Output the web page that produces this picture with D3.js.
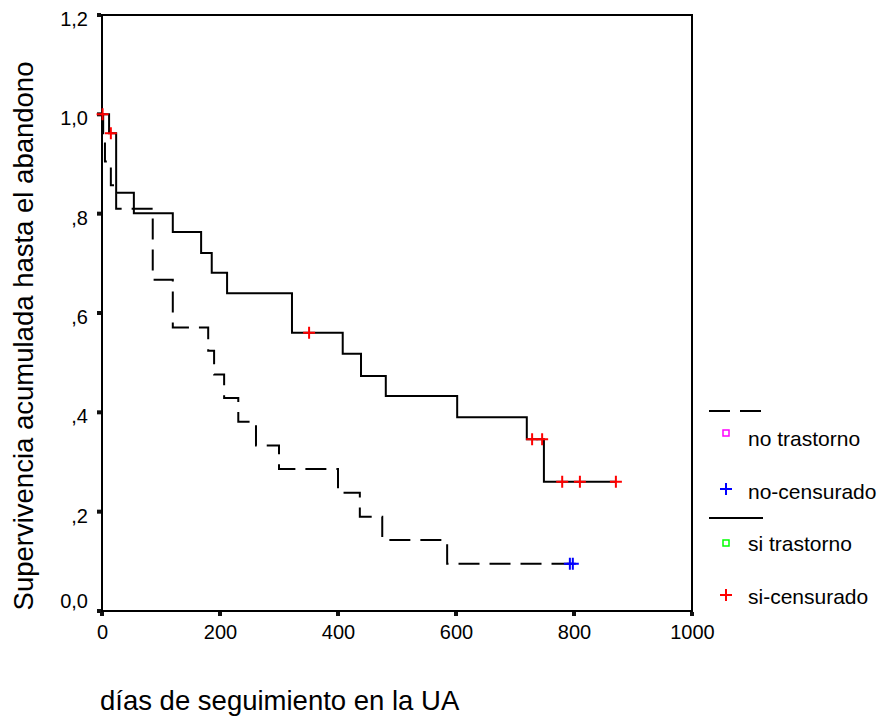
<!DOCTYPE html>
<html>
<head>
<meta charset="utf-8">
<script src="https://cdn.jsdelivr.net/npm/d3@7"></script>
<style>
  body { margin: 0; background: #fff; }
  svg { display: block; font-family: "Liberation Sans", Arial, sans-serif; }
</style>
</head>
<body>
<svg id="chart" width="882" height="717"></svg>
<script>
// axis ticks
const xTicks = [0, 200, 400, 600, 800, 1000];
const yTicks = [0, 0.2, 0.4, 0.6, 0.8, 1.0, 1.2];
const yTickLabels = ['0,0', ',2', ',4', ',6', ',8', '1,0', '1,2'];

// no trastorno (dashed)
const noTimes = [0, 2, 5, 15, 24, 86, 120, 180, 190, 207, 231, 261, 300, 400, 437, 475, 585];
const noSurv = [1, 0.952, 0.905, 0.857, 0.810, 0.667, 0.571, 0.524, 0.476, 0.429, 0.381, 0.333, 0.286, 0.238, 0.190, 0.143, 0.095];
const noCensored = [793, 798];

// si trastorno (solid)
const siTimes = [0, 12, 24, 54, 120, 168, 186, 212, 322, 408, 439, 481, 602, 720, 749];
const siSurv = [1, 0.962, 0.842, 0.801, 0.763, 0.721, 0.681, 0.640, 0.560, 0.518, 0.473, 0.433, 0.390, 0.346, 0.260];
const siCensored = [1, 15, 351, 729, 746, 780, 810, 871];

const legendLabels = ['no trastorno', 'no-censurado', 'si trastorno', 'si-censurado'];

const svg = d3.select('#chart');
const x = d3.scaleLinear().domain([0, 1000]).range([102, 692]);
const y = d3.scaleLinear().domain([0, 1.2]).range([611, 15]);

// survival value at time t (step function)
function survAt(times, surv, t) {
  const i = d3.bisectRight(times, t) - 1;
  return surv[Math.max(0, i)];
}

// step points, extended to the last censored time
function stepPoints(times, surv, censored) {
  const pts = times.map((t, i) => [t, surv[i]]);
  const end = d3.max(censored);
  if (end > times[times.length - 1]) pts.push([end, surv[surv.length - 1]]);
  return pts;
}

const line = d3.line()
  .x((d) => x(d[0]))
  .y((d) => y(d[1]))
  .curve(d3.curveStepAfter);

// frame
svg.append('rect')
  .attr('x', x(0))
  .attr('y', y(1.2))
  .attr('width', x(1000) - x(0))
  .attr('height', y(0) - y(1.2))
  .attr('fill', 'none')
  .attr('stroke', '#000')
  .attr('stroke-width', 2);

// x axis
const xAxis = svg.append('g')
  .attr('transform', `translate(0,${y(0)})`)
  .call(d3.axisBottom(x).tickValues(xTicks).tickSize(0).tickPadding(14)
    .tickFormat(d3.format('d')))
  .call((g) => g.select('.domain').remove());
xAxis.selectAll('text')
  .attr('font-family', '"Liberation Sans", Arial, sans-serif')
  .attr('font-size', 20)
  .attr('fill', '#000');
svg.append('g').selectAll('rect')
  .data(xTicks)
  .join('rect')
  .attr('x', (d) => x(d) - 2)
  .attr('y', y(0) + 1)
  .attr('width', 4)
  .attr('height', 4)
  .attr('fill', '#111');

// y axis
const yAxis = svg.append('g')
  .attr('transform', `translate(${x(0)},0)`)
  .call(d3.axisLeft(y).tickValues(yTicks).tickSize(0).tickPadding(14)
    .tickFormat((d, i) => yTickLabels[i]))
  .call((g) => g.select('.domain').remove());
yAxis.selectAll('text')
  .attr('font-family', '"Liberation Sans", Arial, sans-serif')
  .attr('font-size', 20)
  .attr('fill', '#000')
  .attr('dy', (d) => (d === 0 ? '-0.2em' : '0.52em'));
svg.append('g').selectAll('rect')
  .data(yTicks)
  .join('rect')
  .attr('x', x(0) - 5)
  .attr('y', (d) => y(d) - 2)
  .attr('width', 4)
  .attr('height', 4)
  .attr('fill', '#111');

// titles
svg.append('text')
  .attr('x', 100)
  .attr('y', 710)
  .attr('font-size', 27.5)
  .text('días de seguimiento en la UA');
svg.append('text')
  .attr('transform', 'translate(33,336) rotate(-90)')
  .attr('text-anchor', 'middle')
  .attr('font-size', 27.5)
  .text('Supervivencia acumulada hasta el abandono');

// curves
svg.append('path')
  .attr('d', line(stepPoints(noTimes, noSurv, noCensored)))
  .attr('fill', 'none')
  .attr('stroke', '#000')
  .attr('stroke-width', 2)
  .attr('stroke-dasharray', '21,10');
svg.append('path')
  .attr('d', line(stepPoints(siTimes, siSurv, siCensored)))
  .attr('fill', 'none')
  .attr('stroke', '#000')
  .attr('stroke-width', 2);

// censored marks
function plus(g, cx, cy, color) {
  g.append('path')
    .attr('d', `M${cx - 6},${cy}H${cx + 6}M${cx},${cy - 6}V${cy + 6}`)
    .attr('stroke', color)
    .attr('stroke-width', 2)
    .attr('fill', 'none');
}
const marks = svg.append('g');
noCensored.forEach((t) => plus(marks, x(t), y(survAt(noTimes, noSurv, t)), '#0000ff'));
siCensored.forEach((t) => plus(marks, x(t), y(survAt(siTimes, siSurv, t)), '#ff0000'));

// legend
const lg = svg.append('g');
lg.append('line')
  .attr('x1', 709).attr('x2', 763)
  .attr('y1', 411).attr('y2', 411)
  .attr('stroke', '#000')
  .attr('stroke-width', 2)
  .attr('stroke-dasharray', '21,10');
lg.append('line')
  .attr('x1', 709).attr('x2', 763)
  .attr('y1', 518).attr('y2', 518)
  .attr('stroke', '#000')
  .attr('stroke-width', 2);
lg.append('rect')
  .attr('x', 723).attr('y', 430)
  .attr('width', 6).attr('height', 6)
  .attr('fill', 'none')
  .attr('stroke', '#ff00ff')
  .attr('stroke-width', 1.5);
plus(lg, 726, 489, '#0000ff');
lg.append('rect')
  .attr('x', 723).attr('y', 540)
  .attr('width', 6).attr('height', 6)
  .attr('fill', 'none')
  .attr('stroke', '#00ff00')
  .attr('stroke-width', 1.5);
plus(lg, 726, 595, '#ff0000');
lg.selectAll('text')
  .data(legendLabels)
  .join('text')
  .attr('x', 748)
  .attr('y', (d, i) => 446 + i * 52.7)
  .attr('font-size', 21)
  .text((d) => d);
</script>
</body>
</html>
